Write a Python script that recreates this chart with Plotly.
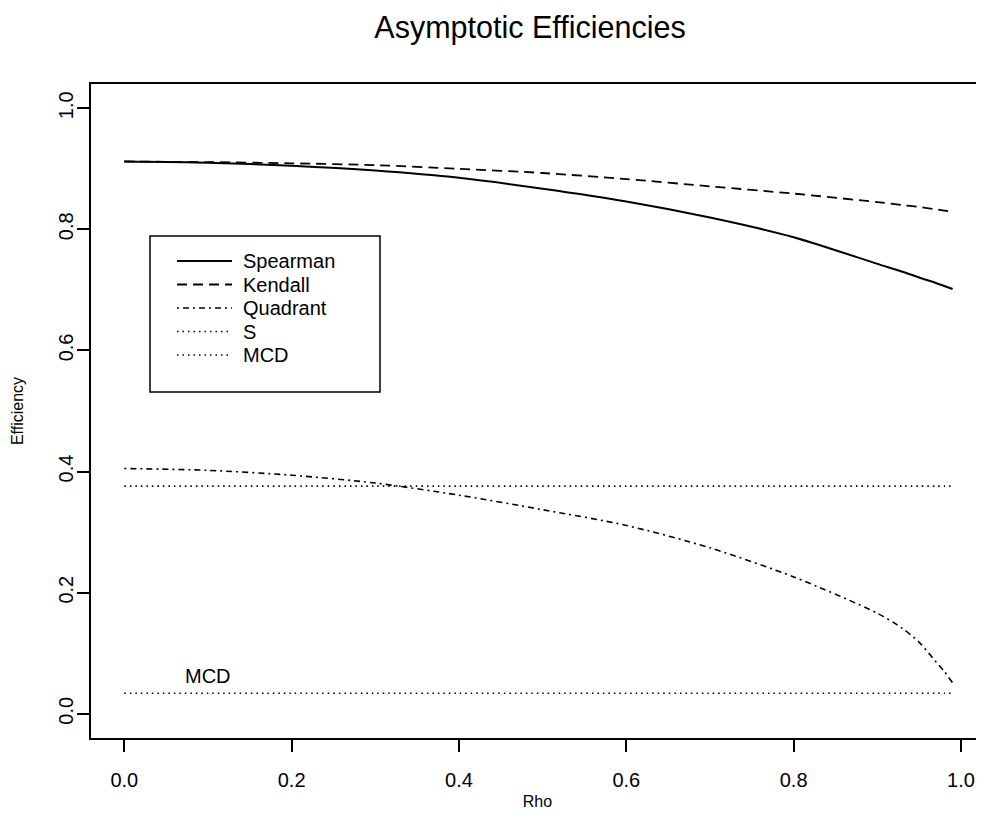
import plotly.graph_objects as go

rho = [0.0, 0.1, 0.2, 0.3, 0.4, 0.5, 0.6, 0.7, 0.8, 0.9, 0.93, 0.95, 0.97, 0.98, 0.99]
spearman = [0.912, 0.910, 0.905, 0.897, 0.885, 0.867, 0.846, 0.8195, 0.787, 0.743, 0.730, 0.7205, 0.7115, 0.7065, 0.7015]
kendall = [0.912, 0.911, 0.909, 0.906, 0.900, 0.893, 0.883, 0.871, 0.859, 0.845, 0.840, 0.837, 0.833, 0.831, 0.829]
quadrant = [0.405, 0.402, 0.394, 0.381, 0.361, 0.337, 0.311, 0.274, 0.226, 0.166, 0.141, 0.118, 0.086, 0.070, 0.051]
s_eff = [0.376] * len(rho)
mcd_eff = [0.034] * len(rho)

series_names = ["Spearman", "Kendall", "Quadrant", "S", "MCD"]
series_vals = [spearman, kendall, quadrant, s_eff, mcd_eff]
dashes = ["solid", "10px,6px", "2px,4px,6px,4px", "1.5px,4px", "1.5px,4px"]
widths = [2, 1.8, 1.6, 1.6, 1.6]

mcd_label = "MCD"
mcd_label_x = 0.10
mcd_label_y = 0.063

tick_vals = [0.0, 0.2, 0.4, 0.6, 0.8, 1.0]

FONT = "Liberation Sans, Arial, Helvetica, sans-serif"

# the page body adds an 8px offset; work in page pixels and subtract it
OFF = 8
W, H = 984 - OFF, 839 - OFF
L, R_, T, B = 91, 984, 84, 738          # plot area in page pixels
PW, PH = R_ - L, B - T


def px(xp):
    return (xp - L) / PW


def py(yp):
    return (B - yp) / PH


fig = go.Figure()
for name, vals, d, w in zip(series_names, series_vals, dashes, widths):
    fig.add_trace(go.Scatter(x=rho, y=vals, mode="lines", name=name,
                             line=dict(color="black", width=w, dash=d, shape="spline", smoothing=0.8),
                             showlegend=False))

fig.add_annotation(x=mcd_label_x, y=mcd_label_y, text=mcd_label, showarrow=False,
                   font=dict(family=FONT, size=20, color="black"),
                   xanchor="center", yanchor="middle")

# legend box drawn by hand to match the original layout
fig.add_shape(type="rect", xref="paper", yref="paper",
              x0=px(150), x1=px(380), y0=py(392), y1=py(236),
              line=dict(color="black", width=1.5), fillcolor="white", layer="above")
row_y = [261, 284.5, 308, 331.5, 355]
for name, d, w, yy in zip(series_names, dashes, widths, row_y):
    fig.add_shape(type="line", xref="paper", yref="paper",
                  x0=px(177), x1=px(232), y0=py(yy), y1=py(yy),
                  line=dict(color="black", width=w, dash=d), layer="above")
    fig.add_annotation(xref="paper", yref="paper", x=px(241), y=py(yy), text=name,
                       showarrow=False, xanchor="left", yanchor="middle",
                       font=dict(family=FONT, size=20, color="black"))

axis_common = dict(
    showgrid=False, zeroline=False, showline=True, linecolor="black", linewidth=1.5,
    mirror=True, ticks="outside", ticklen=12, tickwidth=1.5, tickcolor="black",
    tickvals=tick_vals, tickformat=".1f", automargin=False,
    tickfont=dict(family=FONT, size=20, color="black"),
)

fig.update_layout(
    width=W, height=H,
    margin=dict(l=L - OFF, r=984 - R_, t=T - OFF, b=839 - B),
    paper_bgcolor="white", plot_bgcolor="white",
    title=dict(text="Asymptotic Efficiencies", x=(530 - OFF) / W, xanchor="center",
               xref="container", y=1 - (27 - OFF) / H, yanchor="middle", yref="container",
               font=dict(family=FONT, size=30.5, color="black")),
    xaxis=dict(range=[-0.0398, 1.0275], ticklabelstandoff=11,
               title=dict(text="Rho", standoff=6, font=dict(family=FONT, size=16, color="black")),
               **axis_common),
    yaxis=dict(range=[-0.04, 1.04], tickangle=-90, ticklabelstandoff=-4,
               title=dict(text="Efficiency", standoff=28, font=dict(family=FONT, size=16, color="black")),
               **axis_common),
    showlegend=False,
)

fig.write_html("out.html")
